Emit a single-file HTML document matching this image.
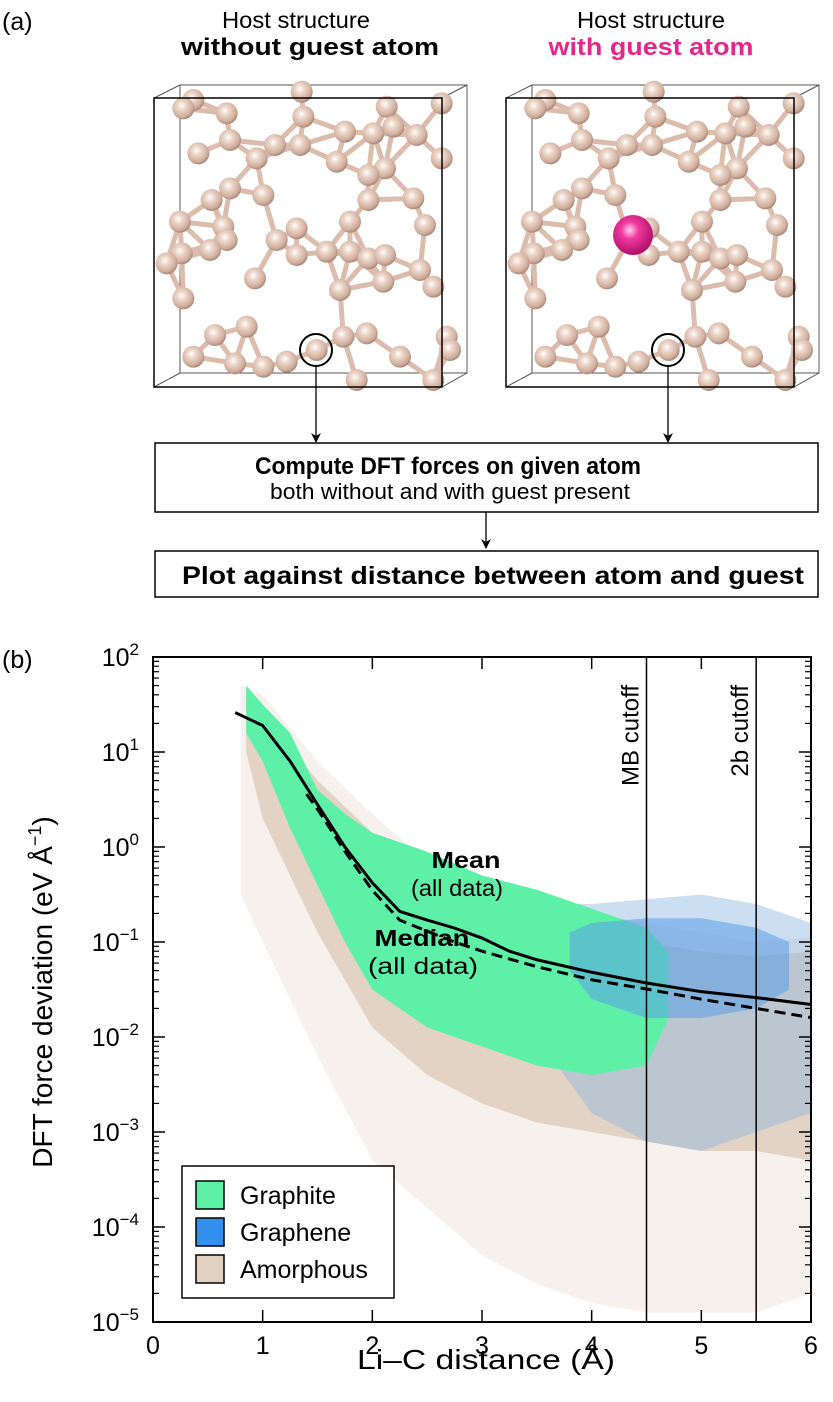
<!DOCTYPE html>
<html><head><meta charset="utf-8"><style>
html,body{margin:0;padding:0;background:#fff}
svg{display:block;font-family:"Liberation Sans",Arial,sans-serif}
</style></head><body>
<svg id="fig" width="833" height="1402" viewBox="0 0 833 1402" xmlns="http://www.w3.org/2000/svg">
<defs>
<radialGradient id="atom" cx="0.42" cy="0.38" r="0.62">
<stop offset="0" stop-color="#ffffff"/><stop offset="0.3" stop-color="#eed8cc"/><stop offset="0.8" stop-color="#cfae9c"/><stop offset="1" stop-color="#a8887a"/>
</radialGradient>
<radialGradient id="guest" cx="0.42" cy="0.38" r="0.62">
<stop offset="0" stop-color="#ffd0ea"/><stop offset="0.35" stop-color="#f03aa0"/><stop offset="1" stop-color="#b0106a"/>
</radialGradient>
<marker id="arr" markerWidth="10" markerHeight="12" refX="9" refY="6" orient="auto" markerUnits="userSpaceOnUse">
<path d="M0,1 L10,6 L0,11 L3,6 Z" fill="#000"/>
</marker>
</defs>
<text x="2" y="30" font-size="25">(a)</text>
<text x="296" y="28" font-size="23" text-anchor="middle" textLength="148" lengthAdjust="spacingAndGlyphs">Host structure</text>
<text x="310" y="55" font-size="24" font-weight="bold" text-anchor="middle" textLength="258" lengthAdjust="spacingAndGlyphs">without guest atom</text>
<text x="651" y="28" font-size="23" text-anchor="middle" textLength="148" lengthAdjust="spacingAndGlyphs">Host structure</text>
<text x="651" y="55" font-size="24" font-weight="bold" fill="#e8258a" text-anchor="middle" textLength="205" lengthAdjust="spacingAndGlyphs">with guest atom</text>
<g id="structs"></g>
<rect x="155" y="443" width="663" height="69" fill="#fff" stroke="#000" stroke-width="1.5"/>
<text x="448" y="474" font-size="24" font-weight="bold" text-anchor="middle" textLength="386" lengthAdjust="spacingAndGlyphs">Compute DFT forces on given atom</text>
<text x="450" y="499" font-size="22" text-anchor="middle" textLength="360" lengthAdjust="spacingAndGlyphs">both without and with guest present</text>
<line x1="486" y1="512" x2="486" y2="548" stroke="#000" stroke-width="1.3" marker-end="url(#arr)"/>
<rect x="155" y="551" width="663" height="46" fill="#fff" stroke="#000" stroke-width="1.5"/>
<text x="493" y="584" font-size="25" font-weight="bold" text-anchor="middle" textLength="622" lengthAdjust="spacingAndGlyphs">Plot against distance between atom and guest</text>
<text x="2" y="668" font-size="25">(b)</text>
<g id="chart"></g>
</svg>
<script>
// ===== chart data =====
const xTicks=[0,1,2,3,4,5,6];
const yDecades=[2,1,0,-1,-2,-3,-4,-5];
const meanX=[0.75,1.0,1.25,1.5,1.75,2.0,2.25,2.5,2.75,3.0,3.25,3.5,4.0,4.5,5.0,5.5,6.0];
const meanY=[26,19,8,2.8,1.0,0.42,0.21,0.17,0.14,0.11,0.08,0.065,0.048,0.037,0.030,0.026,0.022];
const medianX=[1.4,1.5,1.75,2.0,2.25,2.5,2.75,3.0,3.5,4.0,4.5,5.0,5.5,6.0];
const medianY=[3.6,2.5,0.9,0.35,0.17,0.13,0.10,0.08,0.055,0.040,0.032,0.025,0.020,0.016];
const amorSparseX=[0.8,1.0,1.5,2.0,2.5,3.0,3.5,4.0,4.5,5.0,5.5,6.0];
const amorSparseUp=[1.7,1.6,0.9,0.35,-0.15,-0.4,-0.55,-0.7,-0.8,-0.9,-1.0,-0.95];
const amorSparseLow=[-0.5,-1.0,-2.2,-3.3,-3.8,-4.3,-4.6,-4.8,-4.9,-4.9,-4.9,-4.7];
const amorDenseX=[0.85,1.0,1.5,2.0,2.5,3.0,3.5,4.0,4.5,5.0,5.5,6.0];
const amorDenseUp=[1.6,1.4,0.7,0.15,-0.3,-0.55,-0.72,-0.9,-1.0,-1.1,-1.15,-1.1];
const amorDenseLow=[1.0,0.3,-0.9,-1.9,-2.4,-2.7,-2.9,-3.0,-3.1,-3.2,-3.2,-3.3];
const graphiteX=[0.85,1.0,1.25,1.5,1.75,2.0,2.5,3.0,3.5,4.0,4.5,4.7];
const graphiteUp=[1.7,1.5,1.2,0.6,0.35,0.15,-0.05,-0.3,-0.45,-0.65,-0.85,-1.1];
const graphiteLow=[1.2,0.9,0.2,-0.4,-1.0,-1.5,-1.9,-2.1,-2.3,-2.4,-2.3,-1.8];
const grapheneX=[3.3,3.5,4.0,4.5,5.0,5.5,6.0];
const grapheneUp=[-0.8,-0.6,-0.6,-0.55,-0.5,-0.6,-0.8];
const grapheneLow=[-1.2,-2.0,-2.8,-3.1,-3.2,-3.0,-2.8];
const grapheneCoreX=[3.8,4.0,4.5,5.0,5.5,5.8];
const grapheneCoreUp=[-0.9,-0.8,-0.75,-0.75,-0.85,-1.0];
const grapheneCoreLow=[-1.3,-1.6,-1.8,-1.8,-1.7,-1.5];
const cutoffs=[4.5,5.5];
const cutoffLabels=["MB cutoff","2b cutoff"];
const legendLabels=["Graphite","Graphene","Amorphous"];
const legendColors=["#5ff0a8","#3290ee","#e0d1c2"];

const NS="http://www.w3.org/2000/svg";
const L=153,R=811,T=657,B=1322;
const sx=v=>L+(v-0)/(6-0)*(R-L);
const sy=lg=>T+(2-lg)/7*(B-T);
const syv=v=>sy(Math.log10(v));
function mk(tag,attrs,parent){const e=document.createElementNS(NS,tag);for(const k in attrs)e.setAttribute(k,attrs[k]);parent.appendChild(e);return e;}
const chart=document.getElementById('chart');

function band(xs,up,low,fill,op,name){
  let d='M'+xs.map((x,i)=>sx(x).toFixed(1)+','+sy(up[i]).toFixed(1)).join(' L');
  for(let i=xs.length-1;i>=0;i--)d+=' L'+sx(xs[i]).toFixed(1)+','+sy(low[i]).toFixed(1);
  const p=mk('path',{d:d+'Z',fill:fill,opacity:op},chart);
  
  
}
band(amorSparseX,amorSparseUp,amorSparseLow,'#e0d1c2',0.3,'amorphous-sparse');
band(amorDenseX,amorDenseUp,amorDenseLow,'#e0d1c2',0.95,'amorphous-dense');
band(grapheneX,grapheneUp,grapheneLow,'#8fb6e0',0.45,'graphene-cloud');
band(graphiteX,graphiteUp,graphiteLow,'#5ff0a8',1,'graphite-cloud');
band(grapheneCoreX,grapheneCoreUp,grapheneCoreLow,'#5a9fe6',0.55,'graphene-core');

cutoffs.forEach((c,i)=>{
  const ln=mk('line',{x1:sx(c),y1:T,x2:sx(c),y2:B,stroke:'#000','stroke-width':1.5},chart);
  
  
  const t=mk('text',{x:0,y:0,'font-size':24,'text-anchor':'end',transform:`translate(${sx(c)-8},${T+28}) rotate(-90)`},chart);
  t.textContent=cutoffLabels[i];
  
  
});
const mp=mk('polyline',{points:meanX.map((x,i)=>sx(x)+','+syv(meanY[i])).join(' '),fill:'none',stroke:'#000','stroke-width':3},chart);


const dp=mk('polyline',{points:medianX.map((x,i)=>sx(x)+','+syv(medianY[i])).join(' '),fill:'none',stroke:'#000','stroke-width':3,'stroke-dasharray':'11,6'},chart);


function txt(x,y,s,size,bold,name,anchor,len){const t=mk('text',{x:x,y:y,'font-size':size,'text-anchor':anchor||'middle'},chart);if(bold)t.setAttribute('font-weight','bold');if(len){t.setAttribute('textLength',len);t.setAttribute('lengthAdjust','spacingAndGlyphs');}t.textContent=s;return t;}
txt(466,868,'Mean',23,true,'mean-label','middle',69);
txt(457,896,'(all data)',23,false,'mean-sublabel','middle',92);
txt(422,946,'Median',23,true,'median-label','middle',95);
txt(423,974,'(all data)',23,false,'median-sublabel','middle',110);
const fr=mk('rect',{x:L,y:T,width:R-L,height:B-T,fill:'none',stroke:'#000','stroke-width':2},chart);


xTicks.forEach(v=>{
  mk('line',{x1:sx(v),y1:B,x2:sx(v),y2:B-12,stroke:'#000','stroke-width':1.5},chart);
  mk('line',{x1:sx(v),y1:T,x2:sx(v),y2:T+12,stroke:'#000','stroke-width':1.5},chart);
  txt(sx(v),B+32,String(v),25,false,'x-tick-label');
});
yDecades.forEach(d=>{
  [L,R].forEach(x0=>{const dir=x0===L?1:-1;
    mk('line',{x1:x0,y1:sy(d),x2:x0+dir*12,y2:sy(d),stroke:'#000','stroke-width':1.5},chart);
    if(d>-5)for(let m=2;m<=9;m++){const yy=sy(d-1+Math.log10(m));mk('line',{x1:x0,y1:yy,x2:x0+dir*6,y2:yy,stroke:'#000','stroke-width':1.2},chart);}
  });
  const t=mk('text',{x:L-14,y:sy(d)+9,'font-size':25,'text-anchor':'end'},chart);
  
  
  const a=document.createElementNS(NS,'tspan');a.textContent='10';t.appendChild(a);
  const b=document.createElementNS(NS,'tspan');b.setAttribute('dy','-11');b.setAttribute('font-size','17');b.textContent=(d<0?'\u2212'+(-d):String(d));t.appendChild(b);
});
txt(486,1369,'Li\u2013C distance (\u00c5)',28,false,'x-axis-title','middle',258);
const yt=mk('text',{x:0,y:0,'font-size':28,'text-anchor':'middle',transform:'translate(52,992) rotate(-90)'},chart);


yt.appendChild(document.createTextNode('DFT force deviation (eV \u00c5'));
const ys=document.createElementNS(NS,'tspan');ys.setAttribute('dy','-11');ys.setAttribute('font-size','18');ys.textContent='\u22121';yt.appendChild(ys);
const ye=document.createElementNS(NS,'tspan');ye.setAttribute('dy','11');ye.textContent=')';yt.appendChild(ye);
const lg=mk('rect',{x:182,y:1166,width:212,height:132,fill:'#fff',stroke:'#000','stroke-width':1.5},chart);


legendLabels.forEach((s,i)=>{
  const r=mk('rect',{x:196,y:1181+i*37,width:28,height:28,fill:legendColors[i],stroke:'#000','stroke-width':1.5},chart);
  
  
  txt(240,1204+i*37,s,25,false,'legend-entry','start');
});

// ===== structures =====
const S=document.getElementById('structs');
const atoms=[[160,90],[130,115],[260,130],[485,65],[740,110],[905,100],[490,140],[615,185],[760,170],[700,190],[270,210],[480,225],[405,225],[175,250],[350,265],[590,275],[830,195],[905,265],[735,295],[685,315],[270,355],[370,375],[215,390],[685,390],[820,385],[120,455],[250,470],[470,475],[630,455],[410,510],[260,510],[855,465],[125,550],[210,540],[80,580],[470,555],[560,545],[630,545],[685,565],[735,555],[840,600],[880,650],[730,635],[345,625],[600,660],[130,685],[320,770],[225,795],[610,800],[680,790],[920,800],[930,840],[530,840],[160,860],[285,880],[370,890],[440,875],[780,860],[650,930],[880,930]];
function structure(ox,withGuest,name){
  const g=mk('g',{},S);
  
  
  const P=atoms.map(a=>[ox+a[0]/3,70+a[1]/3]);
  mk('rect',{x:ox+40,y:85,width:287,height:288,fill:'none',stroke:'#555','stroke-width':1},g);
  [[0,0],[1,0],[0,1],[1,1]].forEach(c=>mk('line',{x1:ox+14+c[0]*288,y1:98+c[1]*289,x2:ox+40+c[0]*287,y2:85+c[1]*288,stroke:'#555','stroke-width':1},g));
  for(let i=0;i<P.length;i++)for(let j=i+1;j<P.length;j++){const dx=P[i][0]-P[j][0],dy=P[i][1]-P[j][1];if(Math.hypot(dx,dy)<47)mk('line',{x1:P[i][0],y1:P[i][1],x2:P[j][0],y2:P[j][1],stroke:'#dcbcac','stroke-width':5},g);}
  P.forEach(p=>mk('circle',{cx:p[0],cy:p[1],r:11,fill:'url(#atom)'},g));
  if(withGuest){const gg=mk('circle',{cx:ox+141,cy:235,r:20,fill:'url(#guest)'},g);}
  mk('rect',{x:ox+14,y:98,width:288,height:289,fill:'none',stroke:'#000','stroke-width':1.5},g);
  const cx=ox+176;
  const c=mk('circle',{cx:cx,cy:350,r:16,fill:'none',stroke:'#000','stroke-width':2},g);
  
  
  mk('line',{x1:cx,y1:366,x2:cx,y2:442,stroke:'#000','stroke-width':1.3,'marker-end':'url(#arr)'},g);
}
structure(140,false,'host-structure-without-guest');
structure(492,true,'host-structure-with-guest');
</script>
</body></html>
